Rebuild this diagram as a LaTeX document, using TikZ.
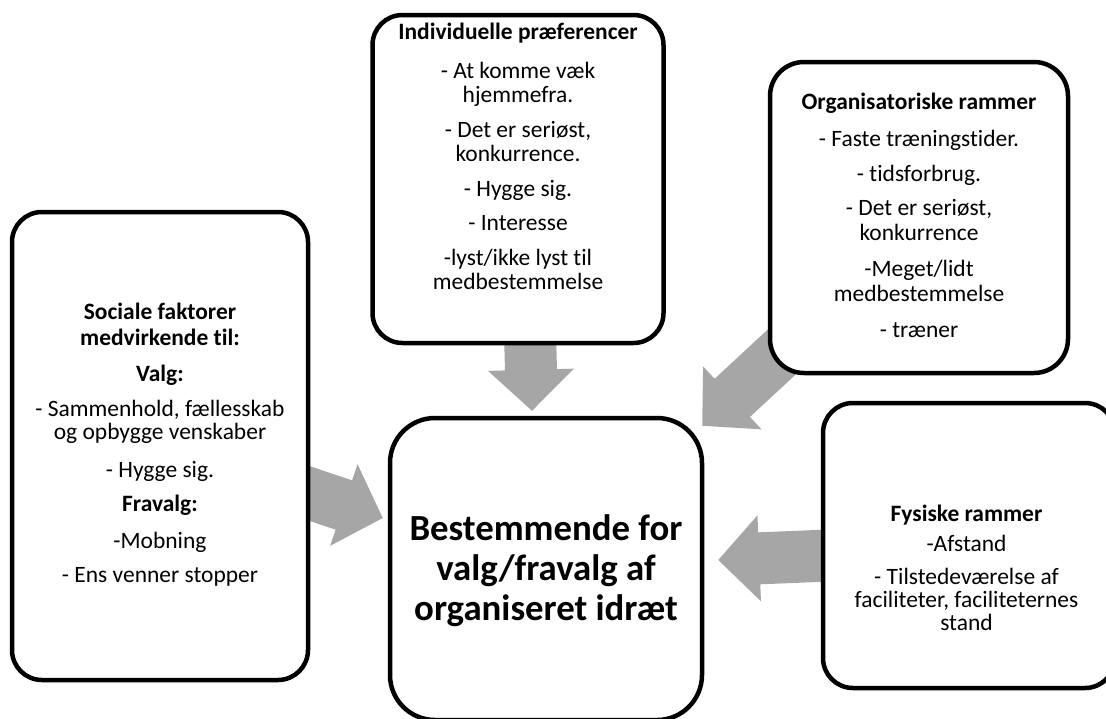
\documentclass[tikz,border=0pt]{standalone}
\usepackage{fontspec}
\setmainfont[Ligatures=NoCommon]{Carlito}
\usetikzlibrary{calc,backgrounds}
\newlength\px
\setlength\px{0.75pt}
\definecolor{arrowgray}{RGB}{166,166,166}

% Filled block arrow from coordinate #1 to the tip at coordinate #2
% (shaft 52px wide, head 86px wide and 41px long).
\newcommand\blockarrow[2]{%
  \path ($(#2)!30.75pt!(#1)$) coordinate (headbase);
  \fill[arrowgray]
    ($(#1)!19.5pt!90:(#2)$) --
    ($(headbase)!19.5pt!-90:(#1)$) --
    ($(headbase)!32.25pt!-90:(#1)$) --
    (#2) --
    ($(headbase)!32.25pt!90:(#1)$) --
    ($(headbase)!19.5pt!90:(#1)$) --
    ($(#1)!19.5pt!-90:(#2)$) -- cycle;}

\begin{document}
\begin{tikzpicture}[x=0.75pt,y=-0.75pt,
  box/.style={draw=black, line width=4.5\px, fill=white, rounded corners=30\px, inner sep=0pt},
  txt/.style={align=center, inner sep=0pt, anchor=north, font=\fontsize{17.6pt}{18pt}\selectfont},
  ctrtxt/.style={align=center, font=\fontsize{27.6pt}{30pt}\selectfont\bfseries}
]
\useasboundingbox (0,0) rectangle (1106,718);

% boxes
\node[box, minimum width=291\px, minimum height=328\px] (ind) at (518,179) {};
\node[box, minimum width=298\px, minimum height=311\px, rounded corners=34\px] (org) at (919,217.5) {};
\node[box, minimum width=296\px, minimum height=468\px] (soc) at (160,446) {};
\node[box, minimum width=312\px, minimum height=302\px, rounded corners=45\px] (ctr) at (546,569) {};
\node[box, minimum width=292\px, minimum height=285\px] (fys) at (969,545.5) {};

% texts inside the boxes
\node[ctrtxt] (ctrT) at (546,571) {Bestemmende for\\valg/fravalg af\\organiseret idræt};

\node[txt] (indT) at (518,23) {\textbf{Individuelle præferencer}\\[11.25pt]
  - At komme væk\\hjemmefra.\\[8pt]
  - Det er seriøst,\\konkurrence.\\[8pt]
  - Hygge sig.\\[8pt]
  - Interesse\\[8pt]
  -lyst/ikke lyst til\\medbestemmelse};

\node[txt] (orgT) at (919,93) {\textbf{Organisatoriske rammer}\\[9.75pt]
  - Faste træningstider.\\[8.25pt]
  - tidsforbrug.\\[7.5pt]
  - Det er seriøst,\\[0.75pt]konkurrence\\[9pt]
  -Meget/lidt\\[0.75pt]medbestemmelse\\[9pt]
  - træner};

\node[txt] (socT) at (160,303) {\textbf{Sociale faktorer}\\[1.5pt]
  \textbf{medvirkende til:}\\[9pt]
  \textbf{Valg:}\\[8.25pt]
  - Sammenhold, fællesskab\\[-0.75pt]og opbygge venskaber\\[10.5pt]
  - Hygge sig.\\[7.5pt]
  \textbf{Fravalg:}\\[9.75pt]
  -Mobning\\[7.5pt]
  - Ens venner stopper};

\node[txt, font=\fontsize{17.6pt}{16.5pt}\selectfont] (fysT) at (966.5,505) {\textbf{Fysiske rammer}\\[6pt]
  -Afstand\\[8.25pt]
  - Tilstedeværelse af\\[0.75pt]faciliteter, faciliteternes\\[0.75pt]stand};

% block arrows pointing at the centre box, drawn beneath the boxes
\coordinate (indS) at ($(ind.south)+(12,-13)$);
\coordinate (indE) at ($(ctr.north)+(-14,-5)$);
\coordinate (orgS) at ($(org.south west)+(32,-40)$);
\coordinate (orgE) at ($(ctr.north east)+(-2,10)$);
\coordinate (socS) at ($(soc.east)+(-47,32)$);
\coordinate (socE) at ($(ctr.west)+(-5,-51)$);
\coordinate (fysS) at ($(fys.west)+(57,8)$);
\coordinate (fysE) at ($(ctr.east)+(14,-9)$);
\begin{scope}[on background layer]
\blockarrow{indS}{indE}
\blockarrow{orgS}{orgE}
\blockarrow{socS}{socE}
\blockarrow{fysS}{fysE}
\end{scope}
\end{tikzpicture}
\end{document}
